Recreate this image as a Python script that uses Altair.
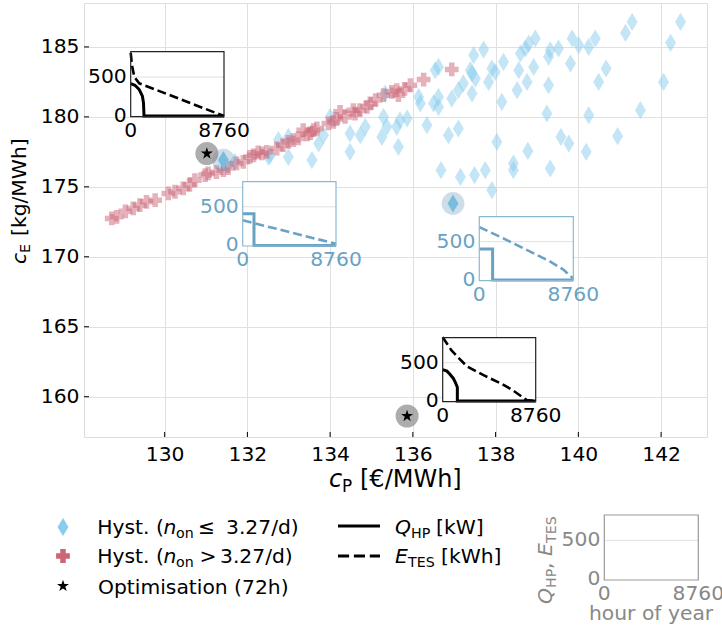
import altair as alt
import pandas as pd

FONT = "DejaVu Sans"

# ---------------- data ----------------
x_ticks = [130, 132, 134, 136, 138, 140, 142]
y_ticks = [160, 165, 170, 175, 180, 185]

blue_cp = [131.70, 132.51, 132.75, 132.99, 132.99, 133.56, 133.72, 133.84, 134.00, 134.48,
           134.48, 134.73, 134.85, 135.25, 135.29, 135.33, 135.37, 135.61, 135.69, 135.65,
           135.86, 136.14, 136.18, 136.34, 136.54, 136.62, 136.62, 136.50, 136.62, 136.86,
           137.10, 136.68, 137.15, 136.94, 137.10, 137.22, 137.39, 137.43, 137.51, 137.43,
           137.47, 137.71, 137.83, 137.91, 137.99, 138.15, 138.19, 138.03, 137.49, 137.75,
           137.91, 138.43, 138.43, 138.78, 138.52, 138.56, 138.76, 138.60, 138.72, 138.92,
           138.96, 138.80, 139.28, 139.32, 139.52, 139.28, 139.24, 139.32, 139.81, 139.85,
           140.01, 140.25, 140.41, 140.25, 139.58, 139.77, 140.19, 140.49, 140.67, 140.95,
           141.50, 141.14, 141.30, 142.06, 142.23, 142.47, 132.55]
blue_ce = [176.79, 177.14, 178.34, 178.57, 177.14, 176.91, 178.10, 178.69, 180.00, 177.50,
           178.81, 178.69, 179.29, 178.57, 180.00, 181.67, 179.29, 179.29, 179.76, 177.86,
           179.89, 181.43, 180.96, 179.41, 183.34, 183.57, 181.43, 180.96, 180.71, 178.69,
           179.17, 176.19, 175.71, 181.31, 181.91, 182.39, 183.34, 183.10, 182.74, 181.67,
           184.41, 184.81, 182.50, 183.46, 183.21, 181.07, 183.93, 178.21, 175.84, 176.19,
           174.76, 176.67, 176.19, 177.57, 181.91, 183.34, 182.50, 184.53, 184.89, 183.57,
           185.60, 185.24, 184.29, 184.76, 184.89, 182.26, 180.24, 176.31, 183.81, 185.60,
           185.12, 185.00, 185.60, 180.12, 178.57, 178.10, 177.50, 182.50, 183.46, 178.62,
           180.48, 186.00, 186.79, 182.50, 185.29, 186.79, 177.26]

red_cp = [128.72, 128.84, 129.05, 129.24, 129.40, 129.56, 129.77, 130.09, 130.25, 130.45,
          130.60, 130.73, 130.98, 131.05, 131.25, 131.42, 131.53, 131.74, 131.90, 132.06,
          132.15, 132.26, 132.35, 132.47, 132.71, 132.86, 132.99, 133.11, 133.23, 133.35,
          133.45, 133.52, 133.60, 133.68, 133.96, 134.08, 134.15, 134.24, 134.36, 134.56,
          134.60, 134.72, 134.89, 134.97, 135.10, 135.29, 135.49, 135.61, 135.65, 135.80,
          135.94, 136.26, 136.94]
red_ce = [172.74, 172.86, 173.25, 173.46, 173.69, 173.93, 174.05, 174.53, 174.65, 174.89,
          175.15, 175.48, 175.84, 175.96, 176.05, 176.19, 176.34, 176.67, 176.79, 177.14,
          177.25, 177.46, 177.39, 177.50, 177.74, 177.98, 178.21, 178.34, 178.46, 179.05,
          178.75, 178.84, 179.05, 179.17, 179.53, 179.64, 179.85, 180.36, 180.00, 180.48,
          180.24, 180.48, 180.71, 180.96, 181.20, 181.55, 181.79, 181.91, 181.55, 182.00,
          182.26, 182.67, 183.39]

opt_cp = [131.02, 135.86]
opt_ce = [177.38, 158.62]
sel_cp = [131.42, 136.97]
sel_ce = [176.91, 173.81]

# inset profiles (hour of year -> value)
q1_h = [0, 400, 800, 1100, 1200, 1250, 8760]
q1_v = [415, 395, 340, 255, 170, 0, 0]
e1_h = [0, 130, 350, 800, 8760]
e1_v = [810, 640, 500, 420, 0]

q2_h = [0, 1060, 1060, 8760]
q2_v = [410, 410, 0, 0]
e2_h = [0, 8760]
e2_v = [325, 20]

q3_h = [0, 1240, 1240, 8760]
q3_v = [405, 405, 0, 0]
e3_h = [0, 2000, 4100, 6500, 7800, 8760]
e3_v = [690, 560, 415, 250, 140, 20]

q4_h = [0, 400, 700, 1000, 1200, 1380, 1380, 8760]
q4_v = [410, 390, 345, 295, 240, 180, 0, 0]
e4_h = [0, 850, 2260, 3800, 5400, 6500, 7900, 8760]
e4_v = [830, 655, 455, 340, 235, 150, 15, 0]

inset_hours = [0, 8760]
inset_vals = [0, 500]
inset_ylim = [-8, 825]

legend_sym_labels = ["Hyst. (", "Optimisation (72h)"]

# ---------------- layout ----------------
L, T, W, H = 84, 3, 623, 434
FW, FH = 722, 633
FS = 20.3
SUB = 14.2


def X(px):
    return px - L


def Y(py):
    return py - T


DIAMOND = "M0,-1L0.6,0L0,1L-0.6,0Z"
STAR = ("M0,-1L0.225,-0.309L0.951,-0.309L0.363,0.118L0.588,0.809L0,0.382"
        "L-0.588,0.809L-0.363,0.118L-0.951,-0.309L-0.225,-0.309Z")
BLUE = "#88CCEE"
RED = "#CC6677"
IBLUE = "#6AA2C3"
DUMMY = pd.DataFrame({"a": [0]})

xs = alt.Scale(domain=[128.05, 143.11], nice=False, zero=False)
ys = alt.Scale(domain=[157.12, 188.14], nice=False, zero=False)
ax_common = dict(title=None, grid=True, gridColor="#e0e0e0", gridWidth=1, ticks=False,
                 tickSize=0, domain=False, labelFontSize=FS, labelColor="black",
                 labelFont=FONT, format="d")
ax_x = alt.Axis(values=x_ticks, labelPadding=7, orient="bottom", **ax_common)
ax_y = alt.Axis(values=y_ticks, labelPadding=5, orient="left", **ax_common)


def enc_main():
    return dict(x=alt.X("cp:Q", scale=xs, axis=ax_x), y=alt.Y("ce:Q", scale=ys, axis=ax_y))


df_blue = pd.DataFrame({"cp": blue_cp, "ce": blue_ce})
df_red = pd.DataFrame({"cp": red_cp, "ce": red_ce})
df_opt = pd.DataFrame({"cp": opt_cp, "ce": opt_ce})
df_sel = pd.DataFrame({"cp": sel_cp, "ce": sel_ce})

blue_layer = alt.Chart(df_blue).mark_point(
    shape=DIAMOND, filled=True, size=330, color=BLUE, opacity=0.5, strokeWidth=0
).encode(**enc_main())
red_layer = alt.Chart(df_red).mark_point(
    shape="cross", filled=True, size=190, color=RED, opacity=0.5, strokeWidth=0
).encode(**enc_main())
sel_circ = alt.Chart(df_sel).mark_circle(size=520, color="#5E93B5", opacity=0.3).encode(**enc_main())
sel_dia = alt.Chart(df_sel).mark_point(
    shape=DIAMOND, filled=True, size=330, color="#78BDE0", opacity=1, strokeWidth=0
).encode(**enc_main())
opt_circ = alt.Chart(df_opt).mark_circle(size=530, color="#8a8a8a", opacity=0.7).encode(**enc_main())
opt_star = alt.Chart(df_opt).mark_point(
    shape=STAR, filled=True, size=160, color="black", opacity=1, strokeWidth=0
).encode(**enc_main())

xt = alt.Chart(pd.DataFrame({"cp": x_ticks})).mark_rule(color="black", strokeWidth=1).encode(
    x=alt.X("cp:Q", scale=xs, axis=ax_x), y=alt.value(H), y2=alt.value(H - 5))
yt = alt.Chart(pd.DataFrame({"ce": y_ticks})).mark_rule(color="black", strokeWidth=1).encode(
    y=alt.Y("ce:Q", scale=ys, axis=ax_y), x=alt.value(0), x2=alt.value(5))

main = alt.layer(blue_layer, red_layer, xt, yt, sel_circ, sel_dia, opt_circ, opt_star)


def inset(left, top, right, bottom, line_color, frame_color, label_color, q=None, e=None):
    sx = alt.Scale(domain=inset_hours, range=[X(left), X(right)], nice=False, zero=False)
    sy = alt.Scale(domain=inset_ylim, range=[Y(bottom), Y(top)], nice=False, zero=False)
    frame = pd.DataFrame({"h0": [inset_hours[0]], "h1": [inset_hours[1]],
                          "v0": [inset_ylim[0]], "v1": [inset_ylim[1]], "g": [inset_vals[1]]})
    ex = lambda f: alt.X(f, scale=sx, axis=None)
    ey = lambda f: alt.Y(f, scale=sy, axis=None)
    layers = [
        alt.Chart(frame).mark_rect(fill="white").encode(
            x=ex("h0:Q"), x2="h1", y=ey("v0:Q"), y2="v1"),
        alt.Chart(frame).mark_rule(color="#e0e0e0", strokeWidth=1).encode(
            x=ex("h0:Q"), x2="h1", y=ey("g:Q")),
    ]
    if q is not None:
        dq = pd.DataFrame({"h": q[0], "v": q[1], "i": list(range(len(q[0])))})
        de = pd.DataFrame({"h": e[0], "v": e[1], "i": list(range(len(e[0])))})
        layers.append(alt.Chart(de).mark_line(color=line_color, strokeWidth=2.6,
                                              strokeDash=[9, 4]).encode(
            x=ex("h:Q"), y=ey("v:Q"), order="i:Q"))
        layers.append(alt.Chart(dq).mark_line(color=line_color, strokeWidth=3).encode(
            x=ex("h:Q"), y=ey("v:Q"), order="i:Q"))
    layers.append(alt.Chart(frame).mark_rect(filled=False, stroke=frame_color,
                                             strokeWidth=1.2).encode(
        x=ex("h0:Q"), x2="h1", y=ey("v0:Q"), y2="v1"))
    lx = pd.DataFrame({"h": inset_hours, "t": [str(v) for v in inset_hours]})
    ly = pd.DataFrame({"v": inset_vals, "t": [str(v) for v in inset_vals]})
    layers.append(alt.Chart(lx).mark_text(font=FONT, fontSize=FS, color=label_color,
                                          align="center", baseline="middle").encode(
        x=ex("h:Q"), y=alt.value(Y(bottom) + 14), text="t:N"))
    layers.append(alt.Chart(ly).mark_text(font=FONT, fontSize=FS, color=label_color,
                                          align="right", baseline="middle").encode(
        y=ey("v:Q"), x=alt.value(X(left) - 4), text="t:N"))
    return alt.layer(*layers)


i1 = inset(130.7, 51.7, 224, 116.7, "black", "#222222", "black", (q1_h, q1_v), (e1_h, e1_v))
i2 = inset(242.7, 181.7, 336, 246, IBLUE, "#8DB8D2", IBLUE, (q2_h, q2_v), (e2_h, e2_v))
i3 = inset(479.3, 216.7, 573.3, 280.7, IBLUE, "#8DB8D2", IBLUE, (q3_h, q3_v), (e3_h, e3_v))
i4 = inset(442.7, 337.7, 535.7, 401.7, "black", "#222222", "black", (q4_h, q4_v), (e4_h, e4_v))
i5 = inset(604.3, 515, 698.3, 580, "#888888", "#999999", "#888888")


def txt(s, x, y, size=FS, italic=False, color="black", angle=0, dy=0):
    return alt.Chart(DUMMY).mark_text(
        text=s, font=FONT, fontSize=size, fontStyle="italic" if italic else "normal",
        color=color, align="left", baseline="alphabetic", angle=angle, dy=dy
    ).encode(x=alt.value(X(x)), y=alt.value(Y(y)))


def sym(shape, x, y, size, color):
    return alt.Chart(DUMMY).mark_point(shape=shape, filled=True, size=size, color=color,
                                       opacity=1, strokeWidth=0).encode(
        x=alt.value(X(x)), y=alt.value(Y(y)))


def hline(x0, x1, y, dash=None):
    kw = dict(color="black", strokeWidth=3)
    if dash:
        kw["strokeDash"] = dash
    return alt.Chart(DUMMY).mark_rule(**kw).encode(
        x=alt.value(X(x0)), x2=alt.value(X(x1)), y=alt.value(Y(y)))


GRAY = "#888888"
texts = [
    # axis titles
    txt("c", 329, 487, 24, italic=True),
    txt("P", 342, 487, 16.8, dy=4.5),
    txt("[€/MWh]", 360, 487, 24),
    txt("c", 26, 264, FS, italic=True, angle=270),
    txt("E", 26, 253, SUB, angle=270, dy=4),
    txt("[kg/MWh]", 26, 236, FS, angle=270),
    # legend, symbol column
    sym(DIAMOND, 63, 527, 330, BLUE),
    sym("cross", 63, 556, 190, RED),
    sym(STAR, 63, 586, 160, "black"),
    txt(legend_sym_labels[0], 97.3, 533.5),
    txt("n", 163.5, 533.5, italic=True),
    txt("on", 176, 533.5, SUB, dy=4),
    txt("≤", 198, 533.5),
    txt("3.27/d)", 226, 533.5),
    txt(legend_sym_labels[0], 97.3, 563),
    txt("n", 163.5, 563, italic=True),
    txt("on", 176, 563, SUB, dy=4),
    txt(">", 199.5, 563),
    txt("3.27/d)", 220, 563),
    txt(legend_sym_labels[1], 98, 594),
    # legend, line column
    hline(338, 380, 526),
    hline(338, 380, 556, dash=[11.1, 4.8]),
    txt("Q", 395, 533.5, italic=True),
    txt("HP", 411, 533.5, SUB, dy=4),
    txt("[kW]", 436, 533.5),
    txt("E", 395, 563, italic=True),
    txt("TES", 408, 563, SUB, dy=4),
    txt("[kWh]", 441, 563),
    # legend inset texts
    txt("hour of year", 589, 620, FS, color=GRAY),
    txt("Q", 552, 604, FS, italic=True, color=GRAY, angle=270),
    txt("HP", 552, 588, SUB, color=GRAY, angle=270, dy=4),
    txt(",", 552, 569, FS, color=GRAY, angle=270),
    txt("E", 552, 556, FS, italic=True, color=GRAY, angle=270),
    txt("TES", 552, 543, SUB, color=GRAY, angle=270, dy=4),
]

chart = alt.layer(main, i1, i2, i3, i4, i5, *texts).resolve_scale(
    x="independent", y="independent"
).properties(
    width=W, height=H,
    padding={"left": L, "top": T, "right": FW - L - W, "bottom": FH - T - H},
    autosize=alt.AutoSizeParams(type="none"),
).configure_view(stroke="black", strokeWidth=1.2).configure(font=FONT)

chart.save("out.html", embed_options={"renderer": "svg", "actions": False})
